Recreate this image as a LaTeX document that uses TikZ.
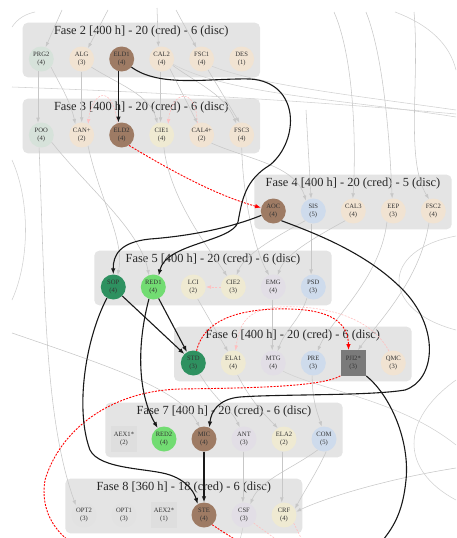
\documentclass[tikz,border=0pt]{standalone}
\usepackage{fontspec}
\setmainfont{Liberation Serif}
\usetikzlibrary{arrows.meta}
\definecolor{clusfill}{RGB}{228,228,228}
\definecolor{cgrn}{RGB}{214,226,218}
\definecolor{cbeige}{RGB}{241,227,210}
\definecolor{cyel}{RGB}{239,234,210}
\definecolor{cbrown}{RGB}{158,123,100}
\definecolor{cblue}{RGB}{206,219,236}
\definecolor{clav}{RGB}{226,222,230}
\definecolor{cdgreen}{RGB}{46,145,96}
\definecolor{clgreen}{RGB}{114,220,114}
\definecolor{cdgray}{RGB}{122,122,122}
\definecolor{clgray}{RGB}{222,222,222}
\definecolor{copt}{RGB}{226,226,226}
\newcommand\nfont{\fontsize{6.6}{7.2}\selectfont}
\newcommand\tfont{\fontsize{12.4}{14}\selectfont}
\begin{document}
\begin{tikzpicture}[x=1pt,y=-1pt,
  clus/.style={fill=clusfill, rounded corners=5pt},
  ttl/.style={font=\tfont, inner sep=0pt, text=black!85},
  nd/.style={circle, minimum size=25pt, inner sep=0pt, font=\nfont, align=center, text=black!80},
  sqn/.style={rectangle, minimum size=25.5pt, inner sep=0pt, font=\nfont, align=center, text=black!80},
  blk/.style={line width=1.1pt, black!90, -{Latex[length=6pt,width=4.5pt]}},
  reddash/.style={red, dash pattern=on 2pt off 1.3pt, line width=0.9pt, -{Latex[length=6pt,width=4.5pt]}},
  redfree/.style={red, dash pattern=on 2pt off 1.3pt, line width=0.9pt},
  gry/.style={black!22, line width=0.55pt, -{Latex[length=5pt,width=3.6pt]}},
  gryfree/.style={black!18, line width=0.55pt},
  pnk/.style={red!25, dash pattern=on 2pt off 1.3pt, line width=0.6pt, -{Latex[length=5pt,width=3.6pt]}},
  pnkfree/.style={red!25, dash pattern=on 2pt off 1.3pt, line width=0.6pt}]
\useasboundingbox (0,0) rectangle (456,538);
\clip (0,0) rectangle (456,538);

% clusters
\fill[clus] (22.7,22.7) rectangle (260,77.3);
\fill[clus] (22.7,98.7) rectangle (260,153.3);
\fill[clus] (254.3,174.7) rectangle (451.7,229.3);
\fill[clus] (94.3,250.7) rectangle (331.7,305.3);
\fill[clus] (174,326.7) rectangle (411.7,381.3);
\fill[clus] (105.3,402.7) rectangle (342.7,457.3);
\fill[clus] (65.3,478.7) rectangle (302.3,533.3);

\node[ttl] (t2) at (141.3,31.7) {Fase 2 [400 h] - 20 (cred) - 6 (disc)};
\node[ttl] (t3) at (141.3,107.7) {Fase 3 [400 h] - 20 (cred) - 6 (disc)};
\node[ttl] (t4) at (353,183.7) {Fase 4 [400 h] - 20 (cred) - 5 (disc)};
\node[ttl] (t5) at (213,259.7) {Fase 5 [400 h] - 20 (cred) - 6 (disc)};
\node[ttl] (t6) at (292.8,335.7) {Fase 6 [400 h] - 20 (cred) - 6 (disc)};
\node[ttl] (t7) at (224,411.7) {Fase 7 [400 h] - 20 (cred) - 6 (disc)};
\node[ttl] (t8) at (183.8,487.7) {Fase 8 [360 h] - 18 (cred) - 6 (disc)};

% nodes
\node[nd, fill=cgrn]   (prgA) at (41.3,59) {PRG2\\(4)};
\node[nd, fill=cbeige] (alg)  at (81.7,59) {ALG\\(3)};
\node[nd, fill=cbrown] (eldA) at (121.7,59) {ELD1\\(4)};
\node[nd, fill=cbeige] (calB) at (161.7,59) {CAL2\\(4)};
\node[nd, fill=cbeige] (fscA) at (201.7,59) {FSC1\\(4)};
\node[nd, fill=cbeige] (des)  at (241.7,59) {DES\\(1)};

\node[nd, fill=cgrn]   (poo)  at (41.3,135) {POO\\(4)};
\node[nd, fill=cbeige] (can)  at (81.7,135) {CAN+\\(2)};
\node[nd, fill=cbrown] (eldB) at (121.7,135) {ELD2\\(4)};
\node[nd, fill=cyel]   (cieA) at (161.7,135) {CIE1\\(4)};
\node[nd, fill=cbeige] (calD) at (201.7,135) {CAL4+\\(2)};
\node[nd, fill=cbeige] (fscC) at (241.7,135) {FSC3\\(4)};

\node[nd, fill=cbrown] (aoc)  at (273.3,211) {AOC\\(4)};
\node[nd, fill=cblue]  (sis)  at (313.3,211) {SIS\\(5)};
\node[nd, fill=cbeige] (calC) at (353.3,211) {CAL3\\(4)};
\node[nd, fill=cbeige] (eep)  at (393.3,211) {EEP\\(3)};
\node[nd, fill=cbeige] (fscB) at (433.3,211) {FSC2\\(4)};

\node[nd, fill=cdgreen] (sop) at (113.3,287) {SOP\\(4)};
\node[nd, fill=clgreen] (redA) at (153.3,287) {RED1\\(4)};
\node[nd, fill=cyel]   (lci)  at (193.3,287) {LCI\\(2)};
\node[nd, fill=cyel]   (cieB) at (233.3,287) {CIE2\\(3)};
\node[nd, fill=clav]   (emg)  at (273.3,287) {EMG\\(4)};
\node[nd, fill=cblue]  (psd)  at (313.3,287) {PSD\\(3)};

\node[nd, fill=cdgreen] (std) at (193.3,363) {STD\\(3)};
\node[nd, fill=cyel]   (elaA) at (233.3,363) {ELA1\\(4)};
\node[nd, fill=clav]   (mtg)  at (273.3,363) {MTG\\(4)};
\node[nd, fill=cblue]  (pre)  at (313.3,363) {PRE\\(3)};
\node[sqn, fill=cdgray] (pji) at (353.3,363) {PJI2*\\(3)};
\node[nd, fill=cbeige] (qmc)  at (393.3,363) {QMC\\(3)};

\node[sqn, fill=clgray] (aexA) at (124,439) {AEX1*\\(2)};
\node[nd, fill=clgreen] (redB) at (164,439) {RED2\\(4)};
\node[nd, fill=cbrown] (mic)  at (204,439) {MIC\\(4)};
\node[nd, fill=clav]   (ant)  at (244,439) {ANT\\(3)};
\node[nd, fill=cyel]   (elaB) at (284,439) {ELA2\\(2)};
\node[nd, fill=cblue]  (com)  at (324,439) {COM\\(5)};

\node[nd, fill=copt]   (optB) at (84,515) {OPT2\\(3)};
\node[nd, fill=copt]   (optA) at (124,515) {OPT1\\(3)};
\node[sqn, fill=clgray] (aexB) at (164,515) {AEX2*\\(1)};
\node[nd, fill=cbrown] (ste)  at (204,515) {STE\\(4)};
\node[nd, fill=clav]   (csf)  at (244,515) {CSF\\(3)};
\node[nd, fill=cyel]   (crf)  at (284,515) {CRF\\(4)};

% free ends
\coordinate (inP) at (62,10);
\coordinate (inA) at (108,10);
\coordinate (inC) at (157,8);
\coordinate (inF) at (176,10);
\coordinate (rtA) at (456,110);
\coordinate (rtB) at (456,117);
\coordinate (lfA) at (12,87);
\coordinate (rtC) at (456,114);
\coordinate (inS) at (306,110);
\coordinate (inCt) at (334,12);
\coordinate (inE) at (366,12);
\coordinate (inFt) at (414,12);
\coordinate (lfB) at (12,333);
\coordinate (mtgE) at (456,445);
\coordinate (csfE) at (240,540);
\coordinate (crfS) at (456,468);
\coordinate (pjiEnd) at (383,540);
\coordinate (redE1) at (68,540);
\coordinate (redE2) at (236,540);
\coordinate (pkE1) at (277,540);
\coordinate (pkE2) at (302,540);
\coordinate (arA1) at (395,12);
\coordinate (arA2) at (456,70);
\coordinate (arB1) at (456,236);
\coordinate (arB2) at (456,330);
\coordinate (arC1) at (456,380);
\coordinate (arC2) at (456,500);
\coordinate (arD1) at (12,27);
\coordinate (arD2) at (35,12);
\coordinate (arE1) at (12,160);
\coordinate (arE2) at (12,300);

% gray edges
\draw[gry] (inP) -- (prgA.70);
\draw[gry] (inA) -- (alg.60);
\draw[gry] (inC) -- (calB.105);
\draw[gry] (inF) -- (fscA.115);
\draw[gry] (prgA.-105) -- (poo.105);
\draw[gry] (alg.south) -- (can.north);
\draw[gry] (prgA.-40) .. controls (60,85) and (70,100) .. (can.120);
\draw[gry] (alg.-40) .. controls (120,85) and (150,95) .. (cieA.110);
\draw[gry] (calB.-95) -- (cieA.95);
\draw[gry] (calB.-50) -- (calD.110);
\draw[gry] (calB.-30) .. controls (200,85) and (225,95) .. (fscC.115);
\draw[gry] (fscA.-60) -- (fscC.100);
\draw[gryfree] (fscA.-35) .. controls (260,85) and (350,95) .. (rtA);
\draw[gryfree] (calB.-25) .. controls (230,95) and (350,100) .. (rtB);
\draw[gryfree] (lfA) .. controls (150,92) and (300,100) .. (rtC);
\draw[gry] (calD.-40) .. controls (250,160) and (295,165) .. (sis.125);
\draw[gry] (inS) -- (sis.100);
\draw[gry] (inCt) .. controls (355,60) and (356,150) .. (calC.92);
\draw[gry] (inE) .. controls (385,60) and (390,150) .. (eep.95);
\draw[gry] (inFt) .. controls (420,80) and (405,160) .. (fscB.110);
\draw[gry] (poo.-100) .. controls (45,300) and (45,420) .. (optB.130);
\draw[gry] (poo.-35) .. controls (90,190) and (140,230) .. (redA.110);
\draw[gry] (can.-60) .. controls (100,200) and (125,240) .. (sop.70);
\draw[gry] (cieA.-80) .. controls (170,200) and (210,250) .. (cieB.120);
\draw[gry] (fscC.-90) .. controls (243,200) and (255,250) .. (emg.110);
\draw[gry] (sis.-100) -- (psd.100);
\draw[gry] (sis.-130) .. controls (270,240) and (245,255) .. (cieB.75);
\draw[gry] (calC.-130) .. controls (310,240) and (285,255) .. (emg.70);
\draw[gry] (lci.-70) -- (elaA.115);
\draw[gry] (emg.-95) -- (mtg.95);
\draw[gry] (psd.-120) .. controls (300,320) and (285,330) .. (mtg.70);
\draw[gry] (eep.-120) .. controls (380,280) and (330,320) .. (pre.70);
\draw[gry] (fscB.-110) .. controls (420,280) and (380,320) .. (pji.70);
\draw[gry] (elaA.-70) .. controls (250,400) and (265,415) .. (elaB.120);
\draw[gryfree] (mtg.-40) .. controls (320,390) and (400,400) .. (mtgE);
\draw[gry] (pre.-95) .. controls (312,400) and (318,415) .. (com.100);
\draw[gry] (lfB) .. controls (120,370) and (180,390) .. (mic.110);
\draw[gry] (std.-60) .. controls (215,400) and (232,410) .. (ant.110);
\draw[gry] (ant.-95) -- (csf.95);
\draw[gry] (elaB.-100) -- (crf.100);
\draw[gry] (com.-120) .. controls (290,470) and (260,480) .. (csf.60);
\draw[gry] (com.-80) .. controls (318,470) and (305,490) .. (crf.30);
\draw[gryfree] (csf.-95) -- (csfE);
\draw[gry] (crfS) .. controls (380,480) and (320,500) .. (crf.15);
\draw[gryfree] (arA1) .. controls (430,25) and (450,45) .. (arA2);
\draw[gryfree] (arB1) .. controls (380,250) and (380,310) .. (arB2);
\draw[gryfree] (arC1) .. controls (400,420) and (400,470) .. (arC2);
\draw[gryfree] (arD1) .. controls (18,18) and (26,14) .. (arD2);
\draw[gryfree] (arE1) .. controls (30,200) and (30,260) .. (arE2);

% faint pink dashed
\draw[pnk] (cieB.west) -- (lci.east);
\draw[pnk] (eldB.110) .. controls (112,82) and (92,92) .. (can.60);
\draw[pnk] (calD.110) .. controls (196,86) and (172,90) .. (cieA.60);
\draw[pnk] (qmc.110) .. controls (370,315) and (320,305) .. (280,307) .. controls (250,309) and (240,320) .. (elaA.80);
\draw[pnkfree] (csf.-40) -- (pkE1);
\draw[pnkfree] (crf.-40) -- (pkE2);

% red dashed
\draw[reddash] (eldB.-55) .. controls (170,170) and (215,195) .. (aoc.165);
\draw[reddash] (std.75) .. controls (205,315) and (250,308) .. (290,309) .. controls (330,310) and (348,322) .. (pji.110);
\draw[redfree] (pji.south west) .. controls (320,387) and (250,388) .. (180,389) .. controls (110,391) and (60,430) .. (45,480) .. controls (40,510) and (55,530) .. (redE1);
\draw[redfree] (ste.-50) .. controls (220,530) and (228,535) .. (redE2);

% black edges
\draw[blk] (eldA.-105) -- (eldB.105);
\draw[blk] (eldA.-40) .. controls (160,88) and (210,78) .. (250,79) .. controls (300,82) and (300,140) .. (270,165) .. controls (245,180) and (242,200) .. (238,222) .. controls (232,242) and (166,243) .. (redA.65);
\draw[blk] (aoc.200) .. controls (230,228) and (190,236) .. (150,239) .. controls (120,242) and (113,255) .. (sop.north);
\draw[blk] (aoc.-50) .. controls (320,235) and (370,255) .. (405,292) .. controls (440,330) and (435,380) .. (405,390) .. controls (370,396) and (280,394) .. (240,397) .. controls (218,399) and (211,412) .. (mic.65);
\draw[blk] (sop.-45) -- (std.135);
\draw[blk] (redA.-65) -- (std.120);
\draw[blk] (redA.-110) .. controls (138,340) and (136,390) .. (redB.120);
\draw[blk] (sop.-120) .. controls (85,340) and (75,410) .. (90,450) .. controls (100,470) and (150,468) .. (170,475) .. controls (190,482) and (195,495) .. (ste.120);
\draw[blk] (mic.south) -- (ste.north);
\draw[line width=1.1pt, black!90] (pji.south east) .. controls (390,395) and (410,440) .. (406,480) .. controls (403,510) and (395,525) .. (pjiEnd);
\end{tikzpicture}
\end{document}
